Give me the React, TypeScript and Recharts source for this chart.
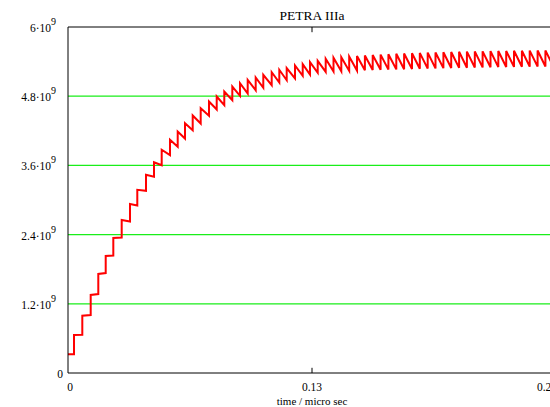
import React from "react";
import {
  LineChart,
  Line,
  XAxis,
  YAxis,
  CartesianGrid,
  ReferenceLine,
} from "recharts";

// beam current build-up, values in units of 10^9, time in micro seconds
const startLevel = 0.324;
const endTime = 0.26;
const endLevel = 5.566;

const injectionTimes = [
  0.0032, 0.00762, 0.01209, 0.01614, 0.02009, 0.02414, 0.02861, 0.03303, 0.03692, 0.04156,
  0.04582, 0.04992, 0.05434, 0.05845, 0.06234, 0.06644, 0.0707, 0.07512, 0.07923, 0.08327,
  0.08754, 0.09164, 0.09574, 0.1, 0.10405, 0.10853, 0.11258, 0.11652, 0.12094, 0.12505,
  0.12894, 0.13304, 0.1373, 0.14146, 0.14561, 0.14982, 0.15398, 0.15818, 0.16234, 0.16655,
  0.17071, 0.17491, 0.17907, 0.18328, 0.18744, 0.19164, 0.1958, 0.20001, 0.20417, 0.20838,
  0.21253, 0.21674, 0.2209, 0.22511, 0.22926, 0.23347, 0.23763, 0.24183, 0.24599, 0.2502,
  0.25436, 0.25856,
];

const levelBefore = [
  0.324, 0.662, 1.006, 1.37, 1.734, 2.038, 2.35, 2.627, 2.905, 3.16,
  3.402, 3.603, 3.777, 3.923, 4.066, 4.21, 4.327, 4.46, 4.569, 4.644,
  4.731, 4.807, 4.847, 4.904, 4.946, 4.991, 5.037, 5.077, 5.107, 5.154,
  5.176, 5.206, 5.223, 5.228, 5.233, 5.239, 5.244, 5.249, 5.254, 5.258,
  5.261, 5.265, 5.268, 5.272, 5.275, 5.279, 5.282, 5.286, 5.289, 5.292,
  5.294, 5.298, 5.299, 5.303, 5.305, 5.306, 5.308, 5.31, 5.312, 5.313,
  5.315, 5.317,
];

const levelAfter = [
  0.659, 0.994, 1.353, 1.717, 2.029, 2.341, 2.653, 2.931, 3.177, 3.437,
  3.655, 3.871, 4.044, 4.188, 4.332, 4.465, 4.592, 4.708, 4.795, 4.881,
  4.968, 5.025, 5.084, 5.124, 5.171, 5.216, 5.258, 5.286, 5.332, 5.355,
  5.39, 5.414, 5.448, 5.466, 5.476, 5.487, 5.497, 5.506, 5.514, 5.521,
  5.528, 5.535, 5.54, 5.546, 5.551, 5.556, 5.559, 5.563, 5.566, 5.57,
  5.573, 5.577, 5.578, 5.582, 5.584, 5.585, 5.587, 5.589, 5.591, 5.592,
  5.594, 5.596,
];

const xTicks = [0, 0.13, 0.26];
const yTicks = [0, 1.2, 2.4, 3.6, 4.8, 6];
const gridValues = [1.2, 2.4, 3.6, 4.8];

const data: { t: number; v: number }[] = [{ t: 0, v: startLevel }];
injectionTimes.forEach((t, i) => {
  data.push({ t, v: levelBefore[i] });
  data.push({ t, v: levelAfter[i] });
});
data.push({ t: endTime, v: endLevel });

const FONT = "'Liberation Serif', 'Times New Roman', serif";

const YTick = (props: any) => {
  const { x, y, payload } = props;
  if (payload.value === 0) {
    return (
      <text x={63} y={y + 5} textAnchor="end" fontSize={11.5} fontFamily={FONT} fill="#000">
        0
      </text>
    );
  }
  return (
    <text x={56} y={y + 5} textAnchor="end" fontSize={11.5} fontFamily={FONT} fill="#000">
      <tspan>{`${payload.value}·10`}</tspan>
      <tspan dy={-7} fontSize={10}>9</tspan>
    </text>
  );
};

const XTick = (props: any) => {
  const { x, y, payload, index } = props;
  const shift = index === xTicks.length - 1 ? -9 : index === 0 ? 2 : 0;
  return (
    <text x={x + shift} y={y + 10} textAnchor="middle" fontSize={11.5} fontFamily={FONT} fill="#000">
      {payload.value}
    </text>
  );
};

export default function App() {
  return (
    <div
      style={{
        position: "absolute",
        left: 0,
        top: 0,
        width: 550,
        height: 407,
        overflow: "hidden",
        background: "#fff",
      }}
    >
      <LineChart
        width={570}
        height={407}
        data={data}
        margin={{ top: 27, right: 14, bottom: 0, left: 0 }}
      >
        <text x={312} y={20} textAnchor="middle" fontSize={13.5} fontFamily={FONT} fill="#000">
          PETRA IIIa
        </text>
        <CartesianGrid
          horizontal
          vertical={false}
          horizontalValues={gridValues}
          stroke="#1aee1a"
          strokeWidth={1.2}
        />
        <XAxis
          dataKey="t"
          type="number"
          domain={[0, endTime]}
          ticks={xTicks}
          height={34}
          axisLine={{ stroke: "#000", strokeWidth: 1 }}
          tickLine={false}
          tick={<XTick />}
          interval={0}
          label={{
            value: "time / micro sec",
            position: "insideBottom",
            offset: 2,
            fontSize: 11,
            fontFamily: FONT,
            fill: "#000",
          }}
        />
        <YAxis
          type="number"
          domain={[0, 6]}
          ticks={yTicks}
          width={68}
          axisLine={{ stroke: "#000", strokeWidth: 1 }}
          tickLine={false}
          tick={<YTick />}
          interval={0}
        />
        <ReferenceLine y={6} stroke="#000" strokeWidth={1} />
        <ReferenceLine
          segment={[
            { x: 0.13, y: 0 },
            { x: 0.13, y: 0.09 },
          ]}
          stroke="#000"
        />
        <ReferenceLine
          segment={[
            { x: 0.13, y: 6 },
            { x: 0.13, y: 5.91 },
          ]}
          stroke="#000"
        />
        <Line
          type="linear"
          dataKey="v"
          stroke="#ff0000"
          strokeWidth={2}
          dot={false}
          isAnimationActive={false}
        />
      </LineChart>
    </div>
  );
}
